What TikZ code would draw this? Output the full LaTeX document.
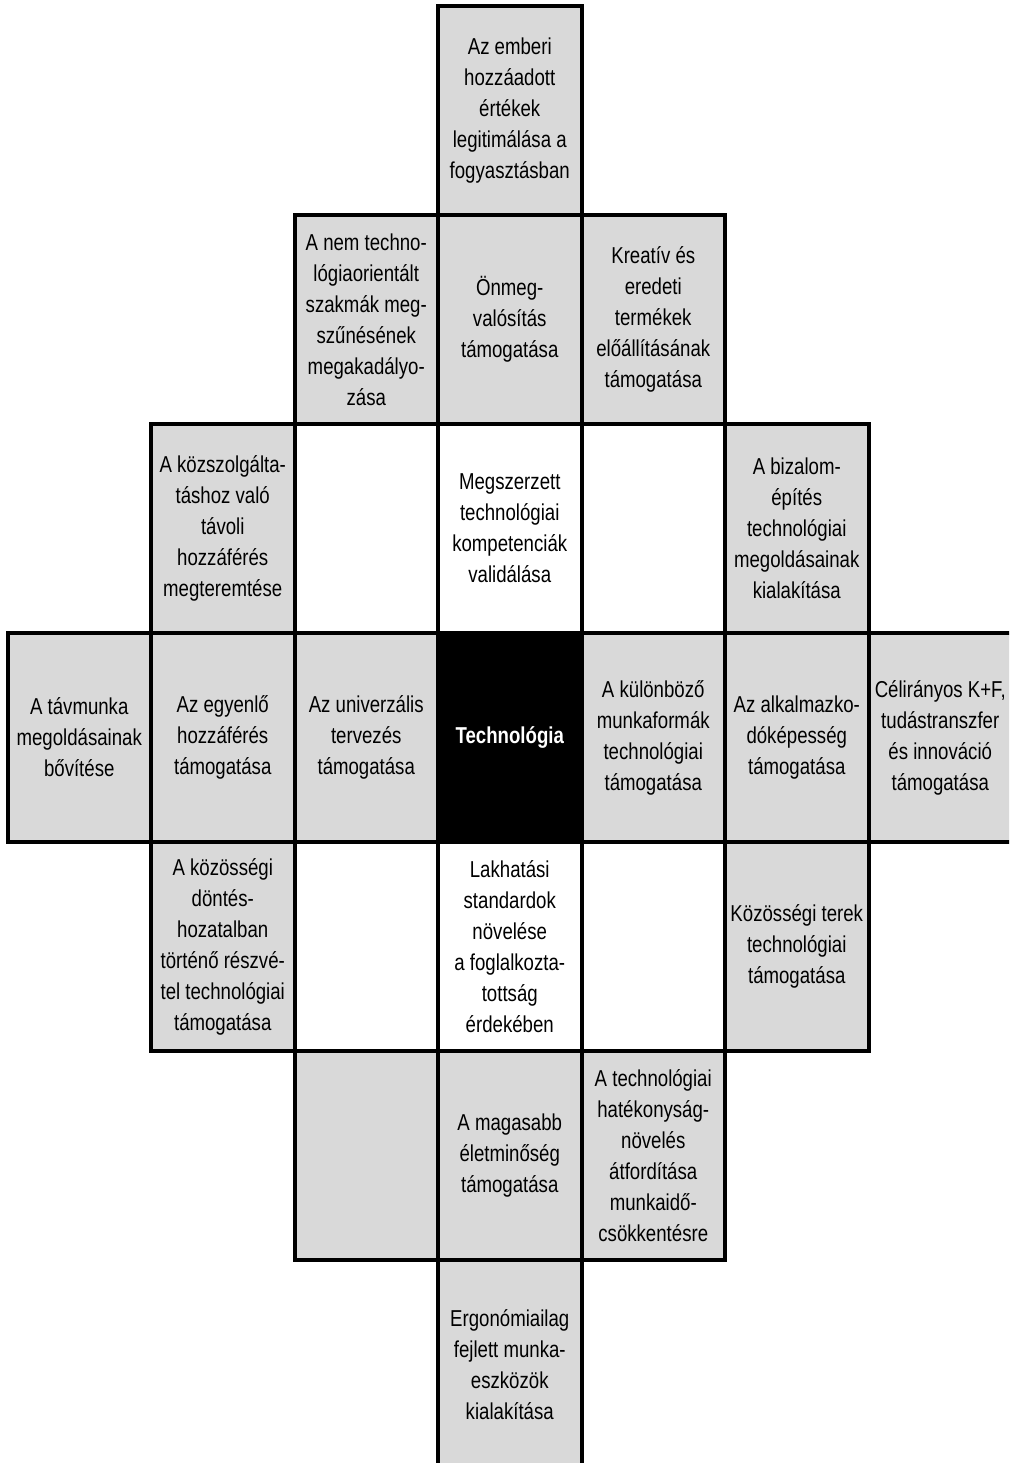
\documentclass[tikz,border=0pt]{standalone}
\usepackage{fontspec}
\setmainfont{Liberation Sans}[FakeStretch=0.81]
\definecolor{cellgray}{HTML}{D9D9D9}
\tikzset{
  cell/.style={draw=black, line width=4pt, minimum width=143.5pt, minimum height=209pt,
    inner sep=0pt, align=center, font=\fontsize{23}{31}\selectfont, text=black},
  gcell/.style={cell, fill=cellgray},
  wcell/.style={cell, fill=white},
  bcell/.style={cell, fill=black, text=white, font=\fontsize{23}{31}\selectfont\bfseries}
}
\begin{document}
\begin{tikzpicture}[x=1pt,y=1pt]
\useasboundingbox (0,0) rectangle (1009,-1463);
\clip (0,0) rectangle (1009,-1463);
% row 1
\node[gcell] (r1c4) at (509.75,-110.5) {Az emberi\\hozzáadott\\értékek\\legitimálása a\\fogyasztásban};
% row 2
\node[gcell] (r2c3) at (366.25,-319.5) {A nem techno-\\lógiaorientált\\szakmák meg-\\szűnésének\\megakadályo-\\zása};
\node[gcell] (r2c4) at (509.75,-319.5) {Önmeg-\\valósítás\\támogatása};
\node[gcell] (r2c5) at (653.25,-319.5) {Kreatív és\\eredeti\\termékek\\előállításának\\támogatása};
% row 3
\node[gcell] (r3c2) at (222.75,-528.5) {A közszolgálta-\\táshoz való\\távoli\\hozzáférés\\megteremtése};
\node[wcell] (r3c3) at (366.25,-528.5) {};
\node[wcell] (r3c4) at (509.75,-528.5) {Megszerzett\\technológiai\\kompetenciák\\validálása};
\node[wcell] (r3c5) at (653.25,-528.5) {};
\node[gcell] (r3c6) at (796.75,-528.5) {A bizalom-\\építés\\technológiai\\megoldásainak\\kialakítása};
% row 4
\node[gcell] (r4c1) at (79.25,-737.5) {A távmunka\\megoldásainak\\bővítése};
\node[gcell] (r4c2) at (222.75,-737.5) {Az egyenlő\\hozzáférés\\támogatása};
\node[gcell] (r4c3) at (366.25,-737.5) {Az univerzális\\tervezés\\támogatása};
\node[bcell] (r4c4) at (509.75,-737.5) {Technológia};
\node[gcell] (r4c5) at (653.25,-737.5) {A különböző\\munkaformák\\technológiai\\támogatása};
\node[gcell] (r4c6) at (796.75,-737.5) {Az alkalmazko-\\dóképesség\\támogatása};
\node[gcell] (r4c7) at (940.25,-737.5) {Célirányos K+F,\\tudástranszfer\\és innováció\\támogatása};
% row 5
\node[gcell] (r5c2) at (222.75,-946.5) {A közösségi\\döntés-\\hozatalban\\történő részvé-\\tel technológiai\\támogatása};
\node[wcell] (r5c3) at (366.25,-946.5) {};
\node[wcell] (r5c4) at (509.75,-946.5) {Lakhatási\\standardok\\növelése\\a foglalkozta-\\tottság\\érdekében};
\node[wcell] (r5c5) at (653.25,-946.5) {};
\node[gcell] (r5c6) at (796.75,-946.5) {Közösségi terek\\technológiai\\támogatása};
% row 6
\node[gcell] (r6c3) at (366.25,-1155.5) {};
\node[gcell] (r6c4) at (509.75,-1155.5) {A magasabb\\életminőség\\támogatása};
\node[gcell] (r6c5) at (653.25,-1155.5) {A technológiai\\hatékonyság-\\növelés\\átfordítása\\munkaidő-\\csökkentésre};
% row 7
\node[gcell] (r7c4) at (509.75,-1364.5) {Ergonómiailag\\fejlett munka-\\eszközök\\kialakítása};
\end{tikzpicture}
\end{document}
